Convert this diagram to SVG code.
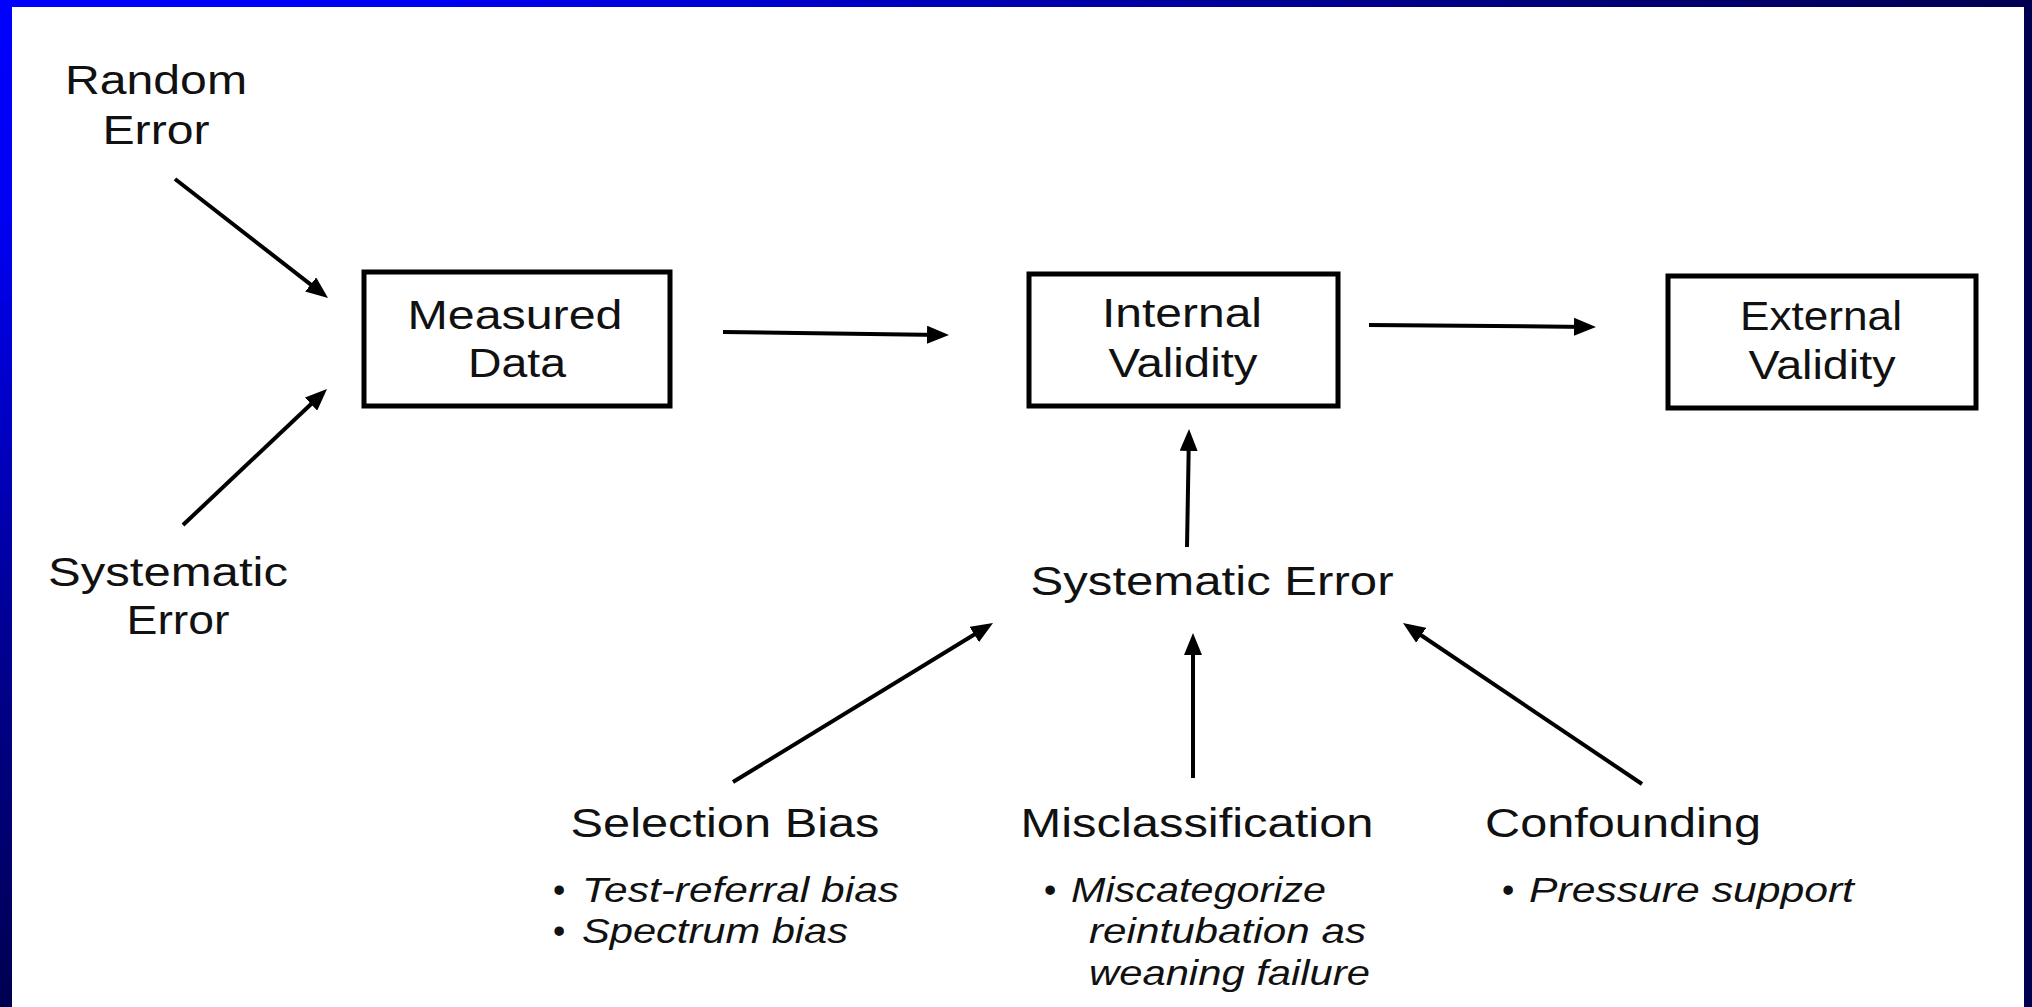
<svg xmlns="http://www.w3.org/2000/svg" width="2032" height="1007" viewBox="0 0 2032 1007">
  <defs>
    <linearGradient id="frame" gradientUnits="userSpaceOnUse" x1="0" y1="0" x2="401" y2="809">
      <stop offset="0" stop-color="#0000FF"/>
      <stop offset="0.22" stop-color="#0000F2"/>
      <stop offset="0.6" stop-color="#00009A"/>
      <stop offset="1" stop-color="#000050"/>
    </linearGradient>
    <marker id="ah" viewBox="0 0 22 18" refX="14" refY="9" markerWidth="22" markerHeight="18" markerUnits="userSpaceOnUse" orient="auto">
      <path d="M0,0 L22,9 L0,18 Z" fill="#000"/>
    </marker>
    <style>
      .box { fill: #fff; stroke: #000; stroke-width: 5; }
      .t { font-family: "Liberation Sans", Arial, sans-serif; fill: #111; }
      .lbl { font-size: 40px; text-anchor: middle; }
      .it { font-size: 35px; font-style: italic; }
      .bul { font-size: 35px; }
      .cn { fill: none; stroke: #000; stroke-width: 4; marker-end: url(#ah); }
    </style>
  </defs>

  <rect x="0" y="0" width="2032" height="1007" fill="url(#frame)"/>
  <rect x="12" y="7" width="2012" height="1000" fill="#fff"/>

  <g id="connectors">
    <line class="cn" x1="175" y1="179" x2="321.7" y2="293.1"/>
    <line class="cn" x1="183" y1="525" x2="321.2" y2="394.5"/>
    <line class="cn" x1="723" y1="332" x2="941" y2="334.9"/>
    <line class="cn" x1="1369" y1="325" x2="1588" y2="326.9"/>
    <line class="cn" x1="1187" y1="547" x2="1188.9" y2="437"/>
    <line class="cn" x1="733" y1="782" x2="986.2" y2="627.2"/>
    <line class="cn" x1="1193" y1="778" x2="1193" y2="641"/>
    <line class="cn" x1="1642" y1="784" x2="1409.6" y2="627.5"/>
  </g>

  <g id="random-error">
    <text class="t lbl" x="156" y="94" textLength="182" lengthAdjust="spacingAndGlyphs">Random</text>
    <text class="t lbl" x="156" y="144" textLength="107" lengthAdjust="spacingAndGlyphs">Error</text>
  </g>

  <g id="systematic-error-left">
    <text class="t lbl" x="168" y="586" textLength="240" lengthAdjust="spacingAndGlyphs">Systematic</text>
    <text class="t lbl" x="178" y="634" textLength="103" lengthAdjust="spacingAndGlyphs">Error</text>
  </g>

  <g id="measured-data">
    <rect class="box" x="364" y="272" width="306" height="134"/>
    <text class="t lbl" x="515" y="329" textLength="215" lengthAdjust="spacingAndGlyphs">Measured</text>
    <text class="t lbl" x="517" y="377" textLength="98" lengthAdjust="spacingAndGlyphs">Data</text>
  </g>

  <g id="internal-validity">
    <rect class="box" x="1029" y="274" width="309" height="132"/>
    <text class="t lbl" x="1182" y="327" textLength="160" lengthAdjust="spacingAndGlyphs">Internal</text>
    <text class="t lbl" x="1183" y="377" textLength="149" lengthAdjust="spacingAndGlyphs">Validity</text>
  </g>

  <g id="external-validity">
    <rect class="box" x="1668" y="276" width="308" height="132"/>
    <text class="t lbl" x="1821" y="330" textLength="162" lengthAdjust="spacingAndGlyphs">External</text>
    <text class="t lbl" x="1822" y="379" textLength="147" lengthAdjust="spacingAndGlyphs">Validity</text>
  </g>

  <g id="systematic-error">
    <text class="t lbl" x="1212" y="595" textLength="363" lengthAdjust="spacingAndGlyphs">Systematic Error</text>
  </g>

  <g id="selection-bias">
    <text class="t lbl" x="725" y="837" textLength="309" lengthAdjust="spacingAndGlyphs">Selection Bias</text>
    <text class="t bul" x="553" y="902">•</text>
    <text class="t it" x="582" y="902" textLength="317" lengthAdjust="spacingAndGlyphs">Test-referral bias</text>
    <text class="t bul" x="553" y="943">•</text>
    <text class="t it" x="582" y="943" textLength="266" lengthAdjust="spacingAndGlyphs">Spectrum bias</text>
  </g>

  <g id="misclassification">
    <text class="t lbl" x="1197" y="837" textLength="353" lengthAdjust="spacingAndGlyphs">Misclassification</text>
    <text class="t bul" x="1044" y="902">•</text>
    <text class="t it" x="1071" y="902" textLength="255" lengthAdjust="spacingAndGlyphs">Miscategorize</text>
    <text class="t it" x="1089" y="943" textLength="277" lengthAdjust="spacingAndGlyphs">reintubation as</text>
    <text class="t it" x="1089" y="985" textLength="281" lengthAdjust="spacingAndGlyphs">weaning failure</text>
  </g>

  <g id="confounding">
    <text class="t lbl" x="1623" y="837" textLength="276" lengthAdjust="spacingAndGlyphs">Confounding</text>
    <text class="t bul" x="1502" y="902">•</text>
    <text class="t it" x="1529" y="902" textLength="325" lengthAdjust="spacingAndGlyphs">Pressure support</text>
  </g>
</svg>
